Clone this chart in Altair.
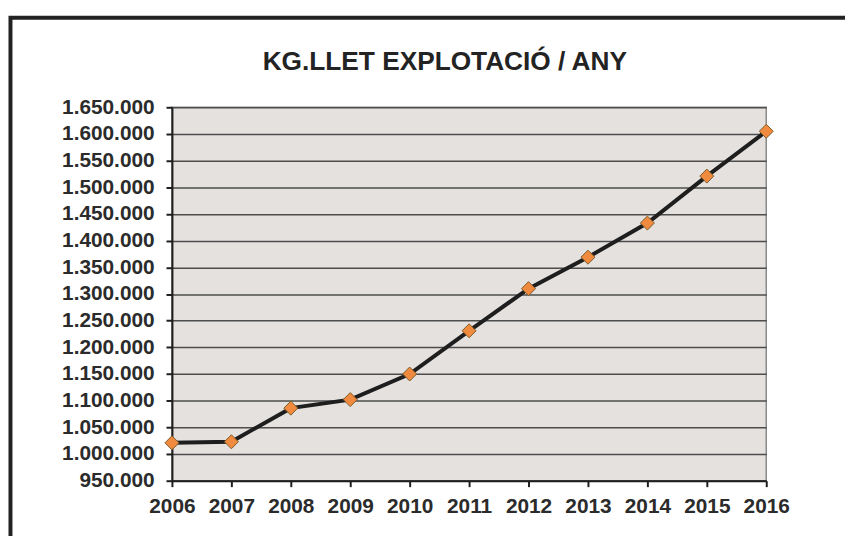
import altair as alt
import pandas as pd

years = [2006, 2007, 2008, 2009, 2010, 2011, 2012, 2013, 2014, 2015, 2016]
kg_llet = [1021000, 1023000, 1086000, 1102000, 1150000, 1231000, 1310000,
           1369000, 1433000, 1521000, 1605000]
y_ticks = [950000, 1000000, 1050000, 1100000, 1150000, 1200000, 1250000,
           1300000, 1350000, 1400000, 1450000, 1500000, 1550000, 1600000, 1650000]
title_text = ["KG.LLET EXPLOTACIÓ / ANY"]

df = pd.DataFrame({"any": years, "kg": kg_llet})
title_df = pd.DataFrame({"t": title_text})
frame_df = pd.DataFrame({"f": [1]})

FONT = "Liberation Sans"

x = alt.X("any:Q",
          scale=alt.Scale(domain=[2006, 2016], nice=False, zero=False),
          axis=alt.Axis(values=years, format="d", title=None, grid=False,
                        labelFlush=False, tickSize=6, labelPadding=9,
                        labelFont=FONT, labelFontSize=21, labelFontWeight="bold",
                        labelColor="#2b2b2b", domainColor="#1e1e1e", domainWidth=2,
                        tickColor="#1e1e1e", tickWidth=2))
y = alt.Y("kg:Q",
          scale=alt.Scale(domain=[950000, 1650000], nice=False, zero=False),
          axis=alt.Axis(values=y_ticks, title=None, grid=True,
                        gridColor="#4d4d4d", gridWidth=1.6,
                        labelExpr="replace(replace(format(datum.value, ',d'), ',', '.'), ',', '.')",
                        tickSize=6, labelPadding=12,
                        labelFont=FONT, labelFontSize=21, labelFontWeight="bold",
                        labelColor="#2b2b2b", domainColor="#1e1e1e", domainWidth=2,
                        tickColor="#1e1e1e", tickWidth=2))

line = alt.Chart(df).mark_line(color="#1e1e1e", strokeWidth=4).encode(x=x, y=y)
points = alt.Chart(df).mark_point(shape="diamond", filled=True, size=200,
                                  fill="#f08a3e", stroke="#7b5b2b",
                                  strokeWidth=1, opacity=1).encode(x=x, y=y)

title = alt.Chart(title_df).mark_text(font=FONT, fontSize=26.5, fontWeight="bold",
                                      color="#232323", align="center",
                                      baseline="alphabetic").encode(
    x=alt.value(275.5), y=alt.value(-37.4), text="t:N")

frame = alt.Chart(frame_df).mark_rect(filled=False, stroke="#222222",
                                      strokeWidth=4).encode(
    x=alt.value(-163), x2=alt.value(720), y=alt.value(-90.4), y2=alt.value(520))

chart = alt.layer(frame, title, line, points).properties(
    width=600, height=377,
    padding={"left": 165.5, "top": 97.7, "right": 79.5, "bottom": 53.3},
    autosize=alt.AutoSizeParams(type="none"),
    background="white",
).configure_view(
    stroke="#8a8a8a", strokeWidth=1.5, fill="#e4e1df"
)

chart.save("out.html", embed_options={"renderer": "svg", "actions": False})
